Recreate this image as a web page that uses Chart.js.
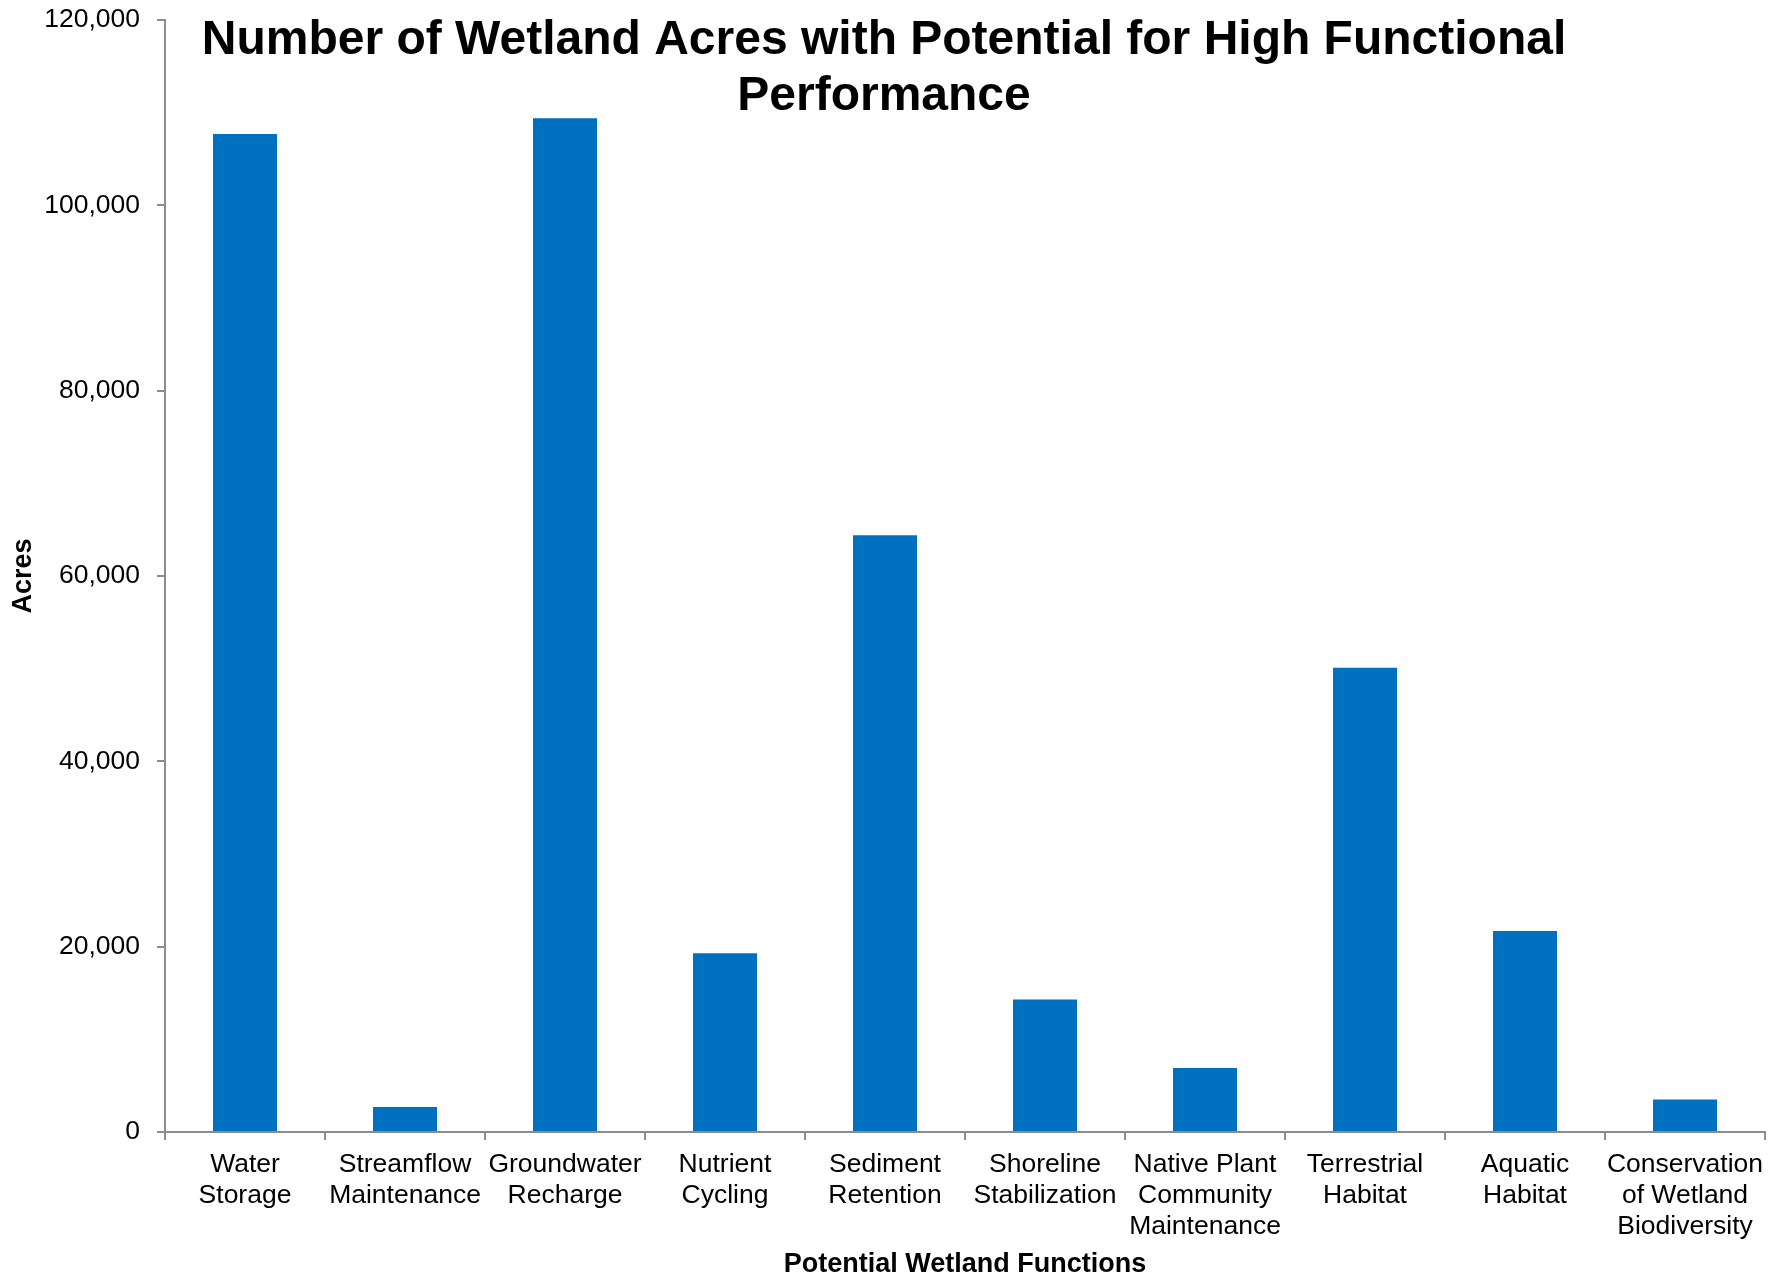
<!DOCTYPE html>
<html>
<head>
<meta charset="utf-8">
<script src="https://cdn.jsdelivr.net/npm/chart.js@4/dist/chart.umd.min.js"></script>
<style>
  html, body { margin: 0; padding: 0; background: #ffffff; }
  #wrap { width: 1781px; height: 1276px; position: relative; }
</style>
</head>
<body>
<div id="wrap"><canvas id="chart" width="1781" height="1276"></canvas></div>
<script>
// Potential wetland functions (multi-line category labels)
const categories = [
  ["Water", "Storage"],
  ["Streamflow", "Maintenance"],
  ["Groundwater", "Recharge"],
  ["Nutrient", "Cycling"],
  ["Sediment", "Retention"],
  ["Shoreline", "Stabilization"],
  ["Native Plant", "Community", "Maintenance"],
  ["Terrestrial", "Habitat"],
  ["Aquatic", "Habitat"],
  ["Conservation", "of Wetland", "Biodiversity"]
];

// Wetland acres with potential for high functional performance
const acres = [107700, 2700, 109400, 19300, 64400, 14300, 6900, 50100, 21700, 3500];

const titleLines = ["Number of Wetland Acres with Potential for High Functional", "Performance"];
const xAxisTitle = "Potential Wetland Functions";
const yAxisTitle = "Acres";
const yMax = 120000;
const yStep = 20000;

const FONT = "'Liberation Sans', Arial, Helvetica, sans-serif";
const AXIS_GRAY = "#8c8c8c";

// Title drawn over the top of the plot area
const overlayTitle = {
  id: "overlayTitle",
  afterDraw(chart) {
    const ctx = chart.ctx;
    ctx.save();
    ctx.fillStyle = "#000000";
    ctx.font = "bold 48px " + FONT;
    ctx.textAlign = "center";
    ctx.textBaseline = "alphabetic";
    const cx = 884;
    ctx.fillText(titleLines[0], cx, 54);
    ctx.fillText(titleLines[1], cx, 110);
    ctx.restore();
  }
};

new Chart(document.getElementById("chart"), {
  type: "bar",
  data: {
    labels: categories,
    datasets: [{
      data: acres,
      backgroundColor: "#0070C0",
      borderWidth: 0,
      categoryPercentage: 1.0,
      barPercentage: 0.4
    }]
  },
  options: {
    responsive: false,
    animation: false,
    devicePixelRatio: 1,
    layout: { padding: { left: 0, right: 16, top: 20, bottom: 0 } },
    plugins: {
      legend: { display: false },
      title: { display: false },
      tooltip: { enabled: false }
    },
    scales: {
      x: {
        offset: true,
        grid: {
          offset: true,
          drawOnChartArea: false,
          drawTicks: true,
          tickLength: 8,
          color: AXIS_GRAY,
          lineWidth: 2
        },
        border: { display: true, color: AXIS_GRAY, width: 2 },
        ticks: {
          color: "#000000",
          font: { family: FONT, size: 26.5, lineHeight: 1.18 },
          padding: 9,
          maxRotation: 0,
          minRotation: 0,
          autoSkip: false
        },
        title: {
          display: true,
          text: xAxisTitle,
          color: "#000000",
          font: { family: FONT, size: 27, weight: "bold", lineHeight: 1.2 },
          padding: { top: 0, bottom: -5 }
        },
        afterFit(scale) {
          scale.height = 144;
          scale.paddingLeft = 0;
          scale.paddingRight = 0;
        }
      },
      y: {
        min: 0,
        max: yMax,
        ticks: {
          stepSize: yStep,
          color: "#000000",
          font: { family: FONT, size: 26.5 },
          padding: 17
        },
        grid: {
          drawOnChartArea: false,
          drawTicks: true,
          tickLength: 8,
          color: AXIS_GRAY,
          lineWidth: 2
        },
        border: { display: true, color: AXIS_GRAY, width: 2 },
        title: {
          display: true,
          text: yAxisTitle,
          color: "#000000",
          font: { family: FONT, size: 27, weight: "bold", lineHeight: 1.2 },
          padding: { top: 7, bottom: 0 }
        },
        afterFit(scale) {
          scale.width = 165;
          scale.paddingTop = 0;
          scale.paddingBottom = 0;
        }
      }
    }
  },
  plugins: [overlayTitle]
});
</script>
</body>
</html>
